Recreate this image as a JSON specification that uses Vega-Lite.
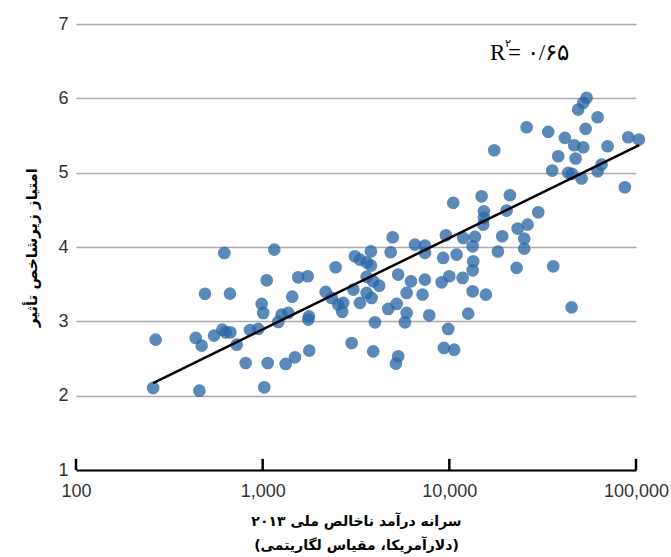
{
  "$schema": "https://vega.github.io/schema/vega-lite/v6.json",
  "width": 560,
  "height": 446,
  "autosize": {"type": "none"},
  "padding": {"left": 76, "top": 24, "right": 35, "bottom": 87},
  "config": {"view": {"stroke": null}, "font": "Liberation Sans"},
  "datasets": {
    "points": [
      {"gni": 623, "score": 3.92}, {"gni": 1154, "score": 3.965}, {"gni": 491, "score": 3.37}, {"gni": 668, "score": 3.373},
      {"gni": 1051, "score": 3.552}, {"gni": 1551, "score": 3.592}, {"gni": 1742, "score": 3.606}, {"gni": 2460, "score": 3.727},
      {"gni": 1440, "score": 3.332}, {"gni": 988, "score": 3.234}, {"gni": 1007, "score": 3.113}, {"gni": 1264, "score": 3.09},
      {"gni": 1371, "score": 3.113}, {"gni": 1212, "score": 2.992}, {"gni": 1770, "score": 3.067}, {"gni": 1755, "score": 3.023},
      {"gni": 2175, "score": 3.396}, {"gni": 2343, "score": 3.315}, {"gni": 2540, "score": 3.225}, {"gni": 2669, "score": 3.127},
      {"gni": 267, "score": 2.754}, {"gni": 438, "score": 2.777}, {"gni": 471, "score": 2.673}, {"gni": 549, "score": 2.808},
      {"gni": 608, "score": 2.888}, {"gni": 634, "score": 2.852}, {"gni": 671, "score": 2.852}, {"gni": 726, "score": 2.686},
      {"gni": 855, "score": 2.884}, {"gni": 947, "score": 2.898}, {"gni": 811, "score": 2.44}, {"gni": 1064, "score": 2.44},
      {"gni": 1328, "score": 2.427}, {"gni": 1489, "score": 2.516}, {"gni": 1777, "score": 2.606}, {"gni": 259, "score": 2.104},
      {"gni": 458, "score": 2.067}, {"gni": 1020, "score": 2.112},
      {"gni": 17400, "score": 5.301}, {"gni": 10490, "score": 4.594}, {"gni": 14890, "score": 4.682}, {"gni": 15320, "score": 4.48},
      {"gni": 15320, "score": 4.392}, {"gni": 15190, "score": 4.301}, {"gni": 9590, "score": 4.157}, {"gni": 11870, "score": 4.122},
      {"gni": 13710, "score": 4.136}, {"gni": 13330, "score": 4.009}, {"gni": 18210, "score": 3.94}, {"gni": 4970, "score": 4.131},
      {"gni": 6540, "score": 4.032}, {"gni": 7400, "score": 4.019}, {"gni": 7400, "score": 3.921}, {"gni": 4850, "score": 3.929},
      {"gni": 3800, "score": 3.942}, {"gni": 3120, "score": 3.875}, {"gni": 3320, "score": 3.83}, {"gni": 3606, "score": 3.794},
      {"gni": 3800, "score": 3.75}, {"gni": 9270, "score": 3.853}, {"gni": 10940, "score": 3.898}, {"gni": 13430, "score": 3.808},
      {"gni": 13330, "score": 3.686}, {"gni": 5320, "score": 3.629}, {"gni": 3606, "score": 3.598}, {"gni": 3910, "score": 3.538},
      {"gni": 4210, "score": 3.48}, {"gni": 6230, "score": 3.538}, {"gni": 7400, "score": 3.561}, {"gni": 9090, "score": 3.525},
      {"gni": 9990, "score": 3.606}, {"gni": 11780, "score": 3.584}, {"gni": 13330, "score": 3.404}, {"gni": 15700, "score": 3.359},
      {"gni": 3060, "score": 3.427}, {"gni": 3606, "score": 3.382}, {"gni": 3835, "score": 3.315}, {"gni": 3320, "score": 3.248},
      {"gni": 5906, "score": 3.382}, {"gni": 7190, "score": 3.359}, {"gni": 2702, "score": 3.248}, {"gni": 4707, "score": 3.167},
      {"gni": 5220, "score": 3.234}, {"gni": 5906, "score": 3.113}, {"gni": 5782, "score": 2.987}, {"gni": 7805, "score": 3.081},
      {"gni": 12620, "score": 3.104}, {"gni": 3996, "score": 2.987}, {"gni": 9860, "score": 2.898}, {"gni": 2997, "score": 2.709},
      {"gni": 3910, "score": 2.596}, {"gni": 5320, "score": 2.529}, {"gni": 5176, "score": 2.431}, {"gni": 9354, "score": 2.642},
      {"gni": 10620, "score": 2.619},
      {"gni": 54370, "score": 6.007}, {"gni": 52140, "score": 5.939}, {"gni": 49020, "score": 5.849}, {"gni": 62280, "score": 5.746},
      {"gni": 25940, "score": 5.611}, {"gni": 33860, "score": 5.549}, {"gni": 53700, "score": 5.589}, {"gni": 41600, "score": 5.468},
      {"gni": 46670, "score": 5.369}, {"gni": 52140, "score": 5.342}, {"gni": 70460, "score": 5.355}, {"gni": 90820, "score": 5.476},
      {"gni": 103600, "score": 5.446}, {"gni": 38310, "score": 5.221}, {"gni": 47480, "score": 5.19}, {"gni": 35580, "score": 5.028},
      {"gni": 43340, "score": 4.997}, {"gni": 45530, "score": 4.984}, {"gni": 51110, "score": 4.921}, {"gni": 65420, "score": 5.109},
      {"gni": 62280, "score": 5.019}, {"gni": 87200, "score": 4.804}, {"gni": 21110, "score": 4.696}, {"gni": 20270, "score": 4.49},
      {"gni": 29940, "score": 4.467}, {"gni": 26270, "score": 4.301}, {"gni": 23220, "score": 4.248}, {"gni": 19200, "score": 4.144},
      {"gni": 25190, "score": 4.113}, {"gni": 25190, "score": 3.978}, {"gni": 22930, "score": 3.719}, {"gni": 36020, "score": 3.74},
      {"gni": 45200, "score": 3.188}
    ],
    "fit": [{"gni": 259, "score": 2.17}, {"gni": 104000, "score": 5.37}],
    "ann": [{"gni": 16500, "score": 6.52}],
    "xticks": [{"gni": 100}, {"gni": 1000}, {"gni": 10000}, {"gni": 100000}]
  },
  "layer": [
    {
      "data": {"name": "points"},
      "mark": {"type": "circle", "size": 160, "opacity": 0.78, "color": "#2b68a6"},
      "encoding": {
        "x": {
          "field": "gni", "type": "quantitative",
          "scale": {"type": "log", "domain": [100, 100000]},
          "axis": {
            "values": [100, 1000, 10000, 100000], "format": ",d", "grid": false,
            "domainColor": "black", "domainWidth": 2, "ticks": false,
            "labelPadding": 12, "labelFontSize": 18, "labelColor": "#333", "labelFont": "Liberation Sans",
            "labelFlush": false, "labelOverlap": false,
            "title": ["سرانه درآمد ناخالص ملی ۲۰۱۳", "(دلارآمریکا، مقیاس لگاریتمی)"],
            "titleFont": "DejaVu Sans", "titleFontSize": 14, "titleFontWeight": "bold", "titleColor": "black",
            "titlePadding": 14, "titleLineHeight": 24
          }
        },
        "y": {
          "field": "score", "type": "quantitative",
          "scale": {"domain": [1, 7]},
          "axis": {
            "values": [1, 2, 3, 4, 5, 6, 7], "format": "d", "grid": true, "gridColor": "#aaaaaa", "gridWidth": 1.5,
            "domain": false, "ticks": false, "labelPadding": 8, "labelFontSize": 18, "labelColor": "#333",
            "labelFont": "Liberation Sans",
            "title": "امتیاز زیرشاخص تأثیر", "titleFont": "DejaVu Sans", "titleFontSize": 15,
            "titleFontWeight": "bold", "titleColor": "black", "titlePadding": 18
          }
        }
      }
    },
    {
      "data": {"name": "xticks"},
      "mark": {"type": "rule", "color": "black", "strokeWidth": 2.5},
      "encoding": {
        "x": {"field": "gni", "type": "quantitative"},
        "y": {"datum": 1, "type": "quantitative"},
        "y2": {"datum": 1.15}
      }
    },
    {
      "data": {"name": "fit"},
      "mark": {"type": "line", "color": "black", "strokeWidth": 2.5},
      "encoding": {
        "x": {"field": "gni", "type": "quantitative"},
        "y": {"field": "score", "type": "quantitative"}
      }
    },
    {
      "data": {"name": "ann"},
      "mark": {"type": "text", "text": "R", "align": "left", "baseline": "alphabetic", "font": "Liberation Serif", "fontSize": 23, "color": "black"},
      "encoding": {
        "x": {"field": "gni", "type": "quantitative"},
        "y": {"field": "score", "type": "quantitative"}
      }
    },
    {
      "data": {"name": "ann"},
      "mark": {"type": "text", "text": "۲", "align": "left", "baseline": "alphabetic", "font": "DejaVu Sans", "fontSize": 11, "dx": 15, "dy": -13, "color": "black"},
      "encoding": {
        "x": {"field": "gni", "type": "quantitative"},
        "y": {"field": "score", "type": "quantitative"}
      }
    },
    {
      "data": {"name": "ann"},
      "mark": {"type": "text", "text": "=  ۰/۶۵", "align": "left", "baseline": "alphabetic", "font": "Liberation Serif", "fontSize": 23, "dx": 18, "color": "black"},
      "encoding": {
        "x": {"field": "gni", "type": "quantitative"},
        "y": {"field": "score", "type": "quantitative"}
      }
    }
  ]
}
